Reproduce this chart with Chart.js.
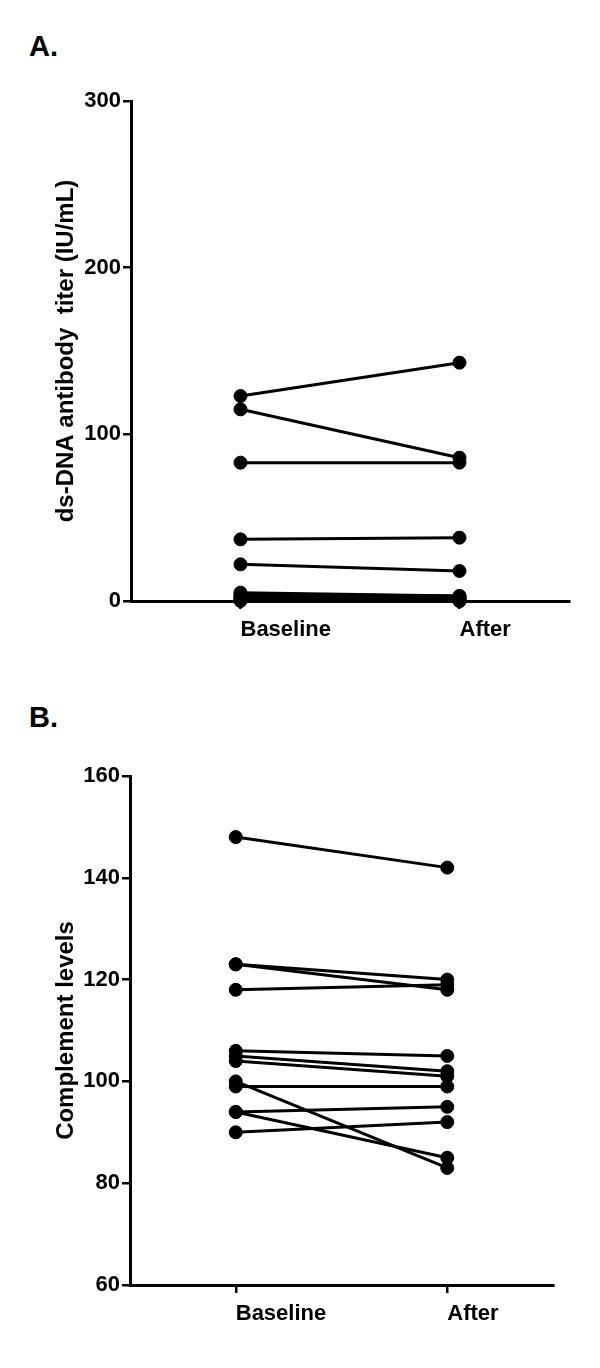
<!DOCTYPE html>
<html>
<head>
<meta charset="utf-8">
<script src="https://cdn.jsdelivr.net/npm/chart.js@4.4.0/dist/chart.umd.min.js"></script>
<style>
  html, body { margin: 0; padding: 0; background: #fff; }
  body { width: 600px; height: 1368px; position: relative; overflow: hidden; }
  canvas { position: absolute; left: 0; }
  .panel { position: absolute; left: 29px; font-family: "Liberation Sans", Arial, sans-serif; font-weight: bold; font-size: 29px; line-height: 1; color: #000; }
</style>
</head>
<body>
<div class="panel" style="top:32px;">A.</div>
<div class="panel" style="top:703px;">B.</div>
<canvas id="chartA" width="600" height="684" style="top:0;"></canvas>
<canvas id="chartB" width="600" height="684" style="top:684px;"></canvas>
<script>
// ---- data ----
const categories = ['Baseline', 'After'];

// Panel A: ds-DNA antibody titer (IU/mL), one value per subject
const dsdnaBaseline = [123, 115, 83, 37, 22, 5, 4, 3, 2, 1, 1, 0];
const dsdnaAfter    = [143, 86, 83, 38, 18, 3, 3, 2, 1, 1, 0, 0];
const dsdnaTicks = [0, 100, 200, 300];

// Panel B: complement levels, one value per subject
const complBaseline = [148, 123, 123, 118, 106, 105, 104, 100, 99, 94, 94, 90];
const complAfter    = [142, 120, 118, 119, 105, 102, 101, 83, 99, 95, 85, 92];
const complTicks = [60, 80, 100, 120, 140, 160];

// ---- drawing ----
const FONT = '"Liberation Sans", Arial, sans-serif';

function makeDatasets(before, after) {
  return before.map((b, i) => ({
    data: [b, after[i]],
    borderColor: '#000',
    backgroundColor: '#000',
    borderWidth: 3,
    pointRadius: 6.5,
    pointBorderWidth: 1,
    pointBackgroundColor: '#000',
    pointBorderColor: '#000',
    tension: 0,
    clip: false
  }));
}

function zeroPad(scale) {
  scale.paddingLeft = 0; scale.paddingRight = 0;
  scale.paddingTop = 0; scale.paddingBottom = 0;
}

function makeChart(id, before, after, ticks, title, area) {
  const canvasH = 684;
  return new Chart(document.getElementById(id), {
    type: 'line',
    data: { labels: categories, datasets: makeDatasets(before, after) },
    options: {
      responsive: false,
      animation: false,
      devicePixelRatio: 1,
      layout: { padding: { left: 0, right: 600 - area.right, top: area.top, bottom: 0 } },
      plugins: { legend: { display: false }, tooltip: { enabled: false }, title: { display: false } },
      scales: {
        x: {
          type: 'category',
          offset: true,
          grid: { display: true, drawOnChartArea: false, drawTicks: true, tickLength: 8, color: '#000', lineWidth: 2.5 },
          border: { display: true, color: '#000', width: 3 },
          ticks: { color: '#000', align: 'start', padding: 8, font: { family: FONT, size: 22, weight: 'bold' } },
          afterFit: (s) => { zeroPad(s); s.height = canvasH - area.bottom; }
        },
        y: {
          min: ticks[0],
          max: ticks[ticks.length - 1],
          afterBuildTicks: (s) => { s.ticks = ticks.map(v => ({ value: v })); },
          grid: { display: true, drawOnChartArea: false, drawTicks: true, tickLength: 8, color: '#000', lineWidth: 2.5 },
          border: { display: true, color: '#000', width: 3 },
          ticks: { color: '#000', padding: 2, font: { family: FONT, size: 22, weight: 'bold' } },
          title: { display: true, text: title, color: '#000', padding: { top: 52, bottom: 0 }, font: { family: FONT, size: 24, weight: 'bold' } },
          afterFit: (s) => { zeroPad(s); s.width = area.left; }
        }
      }
    }
  });
}

makeChart('chartA', dsdnaBaseline, dsdnaAfter, dsdnaTicks, 'ds-DNA antibody  titer (IU/mL)', { left: 131, right: 569, top: 101, bottom: 601 });
makeChart('chartB', complBaseline, complAfter, complTicks, 'Complement levels', { left: 130, right: 553, top: 92, bottom: 601 });
</script>
</body>
</html>
